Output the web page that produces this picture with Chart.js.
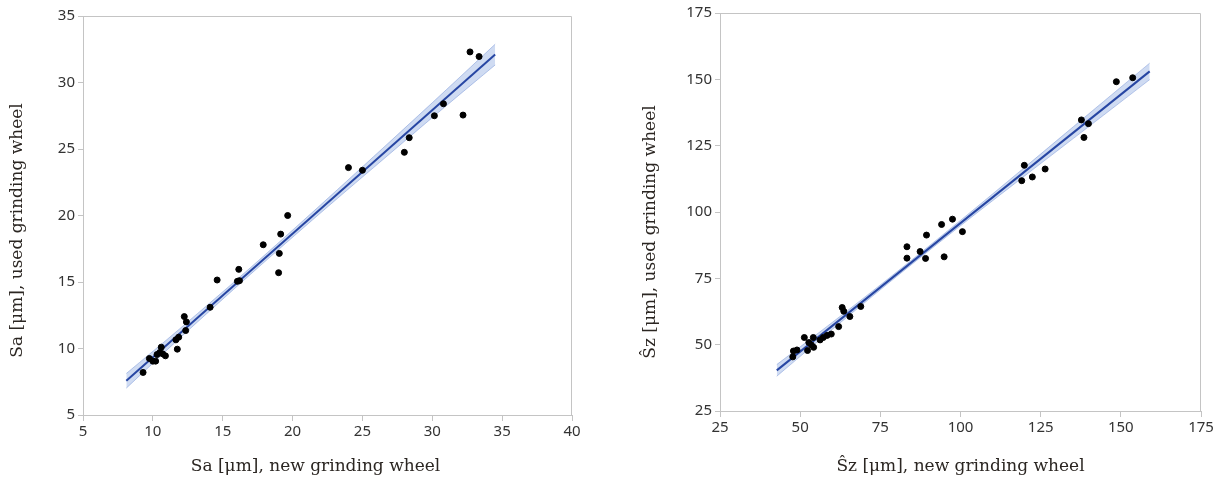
<!DOCTYPE html>
<html>
<head>
<meta charset="utf-8">
<script src="https://cdn.jsdelivr.net/npm/chart.js@4.4.1/dist/chart.umd.min.js"></script>
<style>
  body { margin: 0; background: #fff; }
  .wrap { position: absolute; top: 0; height: 484px; }
</style>
</head>
<body>
<div class="wrap" style="left:0;width:608px"><canvas id="saChart" width="608" height="484"></canvas></div>
<div class="wrap" style="left:608px;width:609px"><canvas id="szChart" width="609" height="484"></canvas></div>
<script>
// Sa: new wheel (x) vs used wheel (y)
let saNew  = [9.3, 9.75, 10.0, 10.2, 10.3, 10.5, 10.6, 10.7, 10.9, 11.65, 11.85, 11.75, 12.25, 12.4, 12.35, 14.1, 14.6, 16.05, 16.2, 16.15, 17.9, 19.0, 19.05, 19.15, 19.65, 24.0, 25.0, 28.0, 28.35, 30.15, 30.8, 32.2, 32.7, 33.35]
let saUsed = [8.2, 9.25, 9.05, 9.05, 9.55, 9.7, 10.1, 9.6, 9.45, 10.65, 10.85, 9.95, 12.4, 12.0, 11.35, 13.1, 15.15, 15.05, 15.1, 15.95, 17.8, 15.7, 17.15, 18.6, 20.0, 23.6, 23.4, 24.75, 25.85, 27.5, 28.4, 27.55, 32.3, 31.95]
let saFitX = [8.1, 34.5]
let saFitY = [7.57, 32.1]
let saBandX  = [8.1, 12, 17, 22, 27, 31, 34.5]
let saBandLo = [7.02, 10.85, 15.59, 20.19, 24.68, 28.25, 31.32]
let saBandHi = [8.12, 11.55, 16.09, 20.79, 25.58, 29.45, 32.88]
let saXTicks = [5, 10, 15, 20, 25, 30, 35, 40]
let saYTicks = [5, 10, 15, 20, 25, 30, 35]

// Sz: new wheel (x) vs used wheel (y)
let szNew  = [47.7, 47.9, 49.0, 51.3, 52.3, 52.7, 53.5, 54.1, 54.2, 56.2, 57.2, 58.4, 59.7, 62.0, 63.1, 63.6, 65.5, 68.9, 83.3, 83.3, 87.4, 89.1, 89.4, 94.1, 94.9, 97.5, 100.6, 119.1, 119.9, 122.4, 126.4, 137.7, 138.5, 139.9, 148.6, 153.7]
let szUsed = [45.4, 47.6, 48.0, 52.7, 47.8, 50.8, 49.9, 52.7, 49.0, 51.8, 52.7, 53.5, 54.0, 56.8, 64.0, 62.6, 60.6, 64.4, 86.9, 82.6, 85.1, 82.5, 91.3, 95.3, 83.1, 97.3, 92.6, 111.8, 117.6, 113.2, 116.2, 134.7, 128.1, 133.3, 149.1, 150.6]
let szFitX = [42.7, 159]
let szFitY = [40.3, 153.0]
let szBandX  = [42.7, 60, 80, 100, 120, 140, 159]
let szBandLo = [38.1, 55.77, 75.6, 94.83, 113.61, 132.19, 149.9]
let szBandHi = [42.5, 58.37, 77.3, 96.83, 116.81, 136.99, 156.1]
let szXTicks = [25, 50, 75, 100, 125, 150, 175]
let szYTicks = [25, 50, 75, 100, 125, 150, 175]

const AXIS_GREY = '#c4c4c4'
const TICK_FONT = { family: 'Noto Sans', size: 15 }
const TITLE_FONT = '17px "DejaVu Serif"'

let pairs = (xs, ys) => xs.map((x, i) => ({ x: x, y: ys[i] }))

// frame round the plot area + axis titles
const framePlugin = {
    id: 'frame',
    afterDraw(chart, args, opts) {
        let c = chart.ctx
        let a = chart.chartArea
        c.save()
        c.strokeStyle = AXIS_GREY
        c.lineWidth = 1
        c.beginPath()
        c.moveTo(a.left, a.top + 0.5)
        c.lineTo(a.right - 0.5, a.top + 0.5)
        c.lineTo(a.right - 0.5, a.bottom)
        c.stroke()

        c.fillStyle = '#2b2622'
        c.font = TITLE_FONT
        c.textAlign = 'center'
        c.textBaseline = 'middle'
        c.fillText(opts.xTitle, (a.left + a.right) / 2 + opts.xShift, chart.height - 17)

        c.translate(a.left - opts.yGap, (a.top + a.bottom) / 2 + opts.yShift)
        c.rotate(-Math.PI / 2)
        c.fillText(opts.yTitle, 0, 0)
        c.restore()
    }
}

function makeChart(id, d) {
    return new Chart(document.getElementById(id), {
        data: {
            datasets: [
                {
                    type: 'scatter',
                    data: pairs(d.xs, d.ys),
                    backgroundColor: '#000',
                    borderColor: '#000',
                    pointRadius: 3,
                    order: 0
                },
                {
                    type: 'line',
                    data: pairs(d.fitX, d.fitY),
                    borderColor: '#2746a3',
                    borderWidth: 2,
                    pointRadius: 0,
                    fill: false,
                    order: 1
                },
                {
                    type: 'line',
                    data: pairs(d.bandX, d.bandLo),
                    borderColor: 'rgba(120,150,215,0.5)',
                    borderWidth: 1,
                    pointRadius: 0,
                    tension: 0.3,
                    fill: false,
                    order: 2
                },
                {
                    type: 'line',
                    data: pairs(d.bandX, d.bandHi),
                    borderColor: 'rgba(120,150,215,0.5)',
                    backgroundColor: 'rgba(130,160,220,0.38)',
                    borderWidth: 1,
                    pointRadius: 0,
                    tension: 0.3,
                    fill: '-1',
                    order: 2
                }
            ]
        },
        options: {
            responsive: false,
            animation: false,
            layout: { padding: { top: d.padTop, right: d.padRight, left: 0, bottom: 0 } },
            plugins: {
                legend: { display: false },
                tooltip: { enabled: false },
                frame: { xTitle: d.xTitle, yTitle: d.yTitle, xShift: d.xShift, yShift: d.yShift, yGap: d.yGap }
            },
            scales: {
                x: {
                    type: 'linear',
                    min: d.xTicks[0],
                    max: d.xTicks[d.xTicks.length - 1],
                    afterBuildTicks: (s) => { s.ticks = d.xTicks.map(v => ({ value: v })) },
                    afterFit: (s) => { s.height = d.xHeight },
                    ticks: { font: TICK_FONT, color: '#333', padding: 2, maxRotation: 0 },
                    grid: { drawOnChartArea: false, tickLength: 6, color: AXIS_GREY },
                    border: { color: AXIS_GREY }
                },
                y: {
                    type: 'linear',
                    min: d.yTicks[0],
                    max: d.yTicks[d.yTicks.length - 1],
                    afterBuildTicks: (s) => { s.ticks = d.yTicks.map(v => ({ value: v })) },
                    afterFit: (s) => { s.width = d.yWidth },
                    ticks: { font: TICK_FONT, color: '#333', padding: 3 },
                    grid: { drawOnChartArea: false, tickLength: 5, color: AXIS_GREY },
                    border: { color: AXIS_GREY }
                }
            }
        },
        plugins: [framePlugin]
    })
}

makeChart('saChart', {
    xs: saNew, ys: saUsed, fitX: saFitX, fitY: saFitY,
    bandX: saBandX, bandLo: saBandLo, bandHi: saBandHi,
    xTicks: saXTicks, yTicks: saYTicks,
    xTitle: 'Sa [μm], new grinding wheel', yTitle: 'Sa [μm], used grinding wheel',
    padTop: 16, padRight: 36, xHeight: 69, yWidth: 83,
    xShift: -12, yShift: 15, yGap: 65
})

makeChart('szChart', {
    xs: szNew, ys: szUsed, fitX: szFitX, fitY: szFitY,
    bandX: szBandX, bandLo: szBandLo, bandHi: szBandHi,
    xTicks: szXTicks, yTicks: szYTicks,
    xTitle: 'Ŝz [μm], new grinding wheel', yTitle: 'Ŝz [μm], used grinding wheel',
    padTop: 13, padRight: 16, xHeight: 73, yWidth: 112,
    xShift: 0, yShift: 20, yGap: 69
})
</script>
</body>
</html>
